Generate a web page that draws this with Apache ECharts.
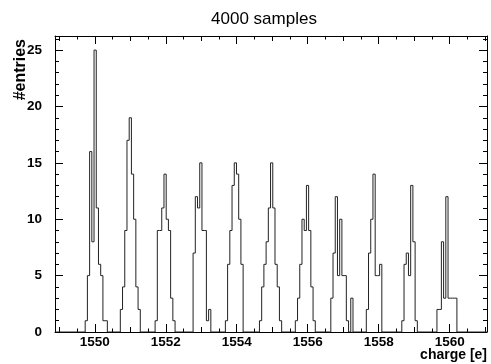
<!DOCTYPE html>
<html>
<head>
<meta charset="utf-8">
<script src="https://cdn.jsdelivr.net/npm/echarts@6/dist/echarts.min.js"></script>
<style>
  html, body { margin: 0; padding: 0; background: #fff; }
  #chart { width: 491px; height: 364px; }
</style>
</head>
<body>
<div id="chart"></div>
<script>
// histogram data
const binWidth = 0.0625;
const xRange = [1548.88, 1561.05];
const yRange = [0, 26.25];
const peakStarts = [1549.73, 1550.72, 1551.70, 1552.77, 1553.68, 1554.64, 1555.65, 1556.65, 1557.65, 1558.65, 1559.64];
const peakCounts = [
  [1, 5, 16, 8, 25, 11, 6, 5, 1, 1],
  [2, 4, 9, 17, 19, 14, 10, 4, 2],
  [1, 9, 9, 11, 14, 10, 9, 3, 1],
  [7, 12, 11, 15, 9, 9, 1, 2],
  [1, 6, 9, 13, 15, 14, 10, 6],
  [1, 4, 6, 8, 11, 15, 11, 6, 4, 1],
  [1, 3, 6, 10, 9, 13, 9, 4, 1],
  [3, 7, 12, 5, 10, 5, 5, 1, 0, 3],
  [2, 7, 10, 14, 5, 5, 6],
  [1, 6, 7, 5, 13, 8, 1],
  [2, 2, 8, 3, 12, 3, 3, 3, 3]
];
const xMajorTicks = [1550, 1552, 1554, 1556, 1558, 1560];
const xMidTicks = [1549, 1551, 1553, 1555, 1557, 1559, 1561];
const xMinorTicks = [1549.5, 1550.5, 1551.5, 1552.5, 1553.5, 1554.5, 1555.5, 1556.5, 1557.5, 1558.5, 1559.5, 1560.5];
const yMajorTicks = [0, 5, 10, 15, 20, 25];
const yMinorTicks = [1, 2, 3, 4, 6, 7, 8, 9, 11, 12, 13, 14, 16, 17, 18, 19, 21, 22, 23, 24, 26];

// outline of the histogram as a step path
const steps = [[xRange[0], 0]];
peakStarts.forEach((start, i) => {
  let x = start;
  steps.push([x, 0]);
  peakCounts[i].forEach(c => {
    steps.push([x, c]);
    x += binWidth;
    steps.push([x, c]);
  });
  steps.push([x, 0]);
});
steps.push([xRange[1], 0]);

const font = 'Liberation Sans, Arial, Helvetica, sans-serif';
const black = '#000';
const plain = v => String(v);

function xAxisOf(pos, ticks, len, labels, line) {
  return {
    type: 'value', position: pos, min: xRange[0], max: xRange[1],
    axisLine: { show: line, onZero: false, lineStyle: { color: black, width: 1 } },
    axisTick: { show: true, inside: true, length: len, customValues: ticks, lineStyle: { color: black, width: 1 } },
    axisLabel: labels
      ? { show: true, customValues: ticks, formatter: plain, margin: 3, color: black, fontSize: 13.5, fontWeight: 'bold', fontFamily: font }
      : { show: false },
    splitLine: { show: false }
  };
}
function yAxisOf(pos, ticks, len, labels, line) {
  return {
    type: 'value', position: pos, min: yRange[0], max: yRange[1],
    axisLine: { show: line, onZero: false, lineStyle: { color: black, width: 1 } },
    axisTick: { show: true, inside: true, length: len, customValues: ticks, lineStyle: { color: black, width: 1 } },
    axisLabel: labels
      ? { show: true, customValues: ticks, formatter: plain, margin: 13, color: black, fontSize: 13.5, fontWeight: 'bold', fontFamily: font }
      : { show: false },
    splitLine: { show: false }
  };
}

const chart = echarts.init(document.getElementById('chart'), null, { renderer: 'canvas' });
chart.setOption({
  animation: false,
  backgroundColor: '#fff',
  grid: { left: 55, right: 4, top: 36, bottom: 32, containLabel: false },
  xAxis: [
    xAxisOf('bottom', xMajorTicks, 8, true, true),
    xAxisOf('bottom', xMidTicks, 5, false, false),
    xAxisOf('bottom', xMinorTicks, 3.5, false, false),
    xAxisOf('top', xMajorTicks, 8, false, true),
    xAxisOf('top', xMidTicks, 5, false, false),
    xAxisOf('top', xMinorTicks, 3.5, false, false)
  ],
  yAxis: [
    yAxisOf('left', yMajorTicks, 8, true, true),
    yAxisOf('left', yMinorTicks, 4, false, false),
    yAxisOf('right', yMajorTicks, 8, false, true),
    yAxisOf('right', yMinorTicks, 4, false, false)
  ],
  series: [{
    type: 'line',
    xAxisIndex: 0,
    yAxisIndex: 0,
    data: steps,
    showSymbol: false,
    symbol: 'none',
    lineStyle: { color: '#222', width: 1 },
    clip: true
  }],
  graphic: [
    {
      type: 'text', x: 264, y: 19,
      style: { text: '4000 samples', font: '17px ' + font, fill: black, align: 'center', verticalAlign: 'middle', textAlign: 'center', textVerticalAlign: 'middle' }
    },
    {
      type: 'text', x: 21, y: 39, rotation: Math.PI / 2,
      style: { text: '#entries', font: 'bold 16px ' + font, fill: black, align: 'right', verticalAlign: 'middle', textAlign: 'right', textVerticalAlign: 'middle' }
    },
    {
      type: 'text', x: 487, y: 355,
      style: { text: 'charge [e]', font: 'bold 14px ' + font, fill: black, align: 'right', verticalAlign: 'middle', textAlign: 'right', textVerticalAlign: 'middle' }
    }
  ]
});
</script>
</body>
</html>
